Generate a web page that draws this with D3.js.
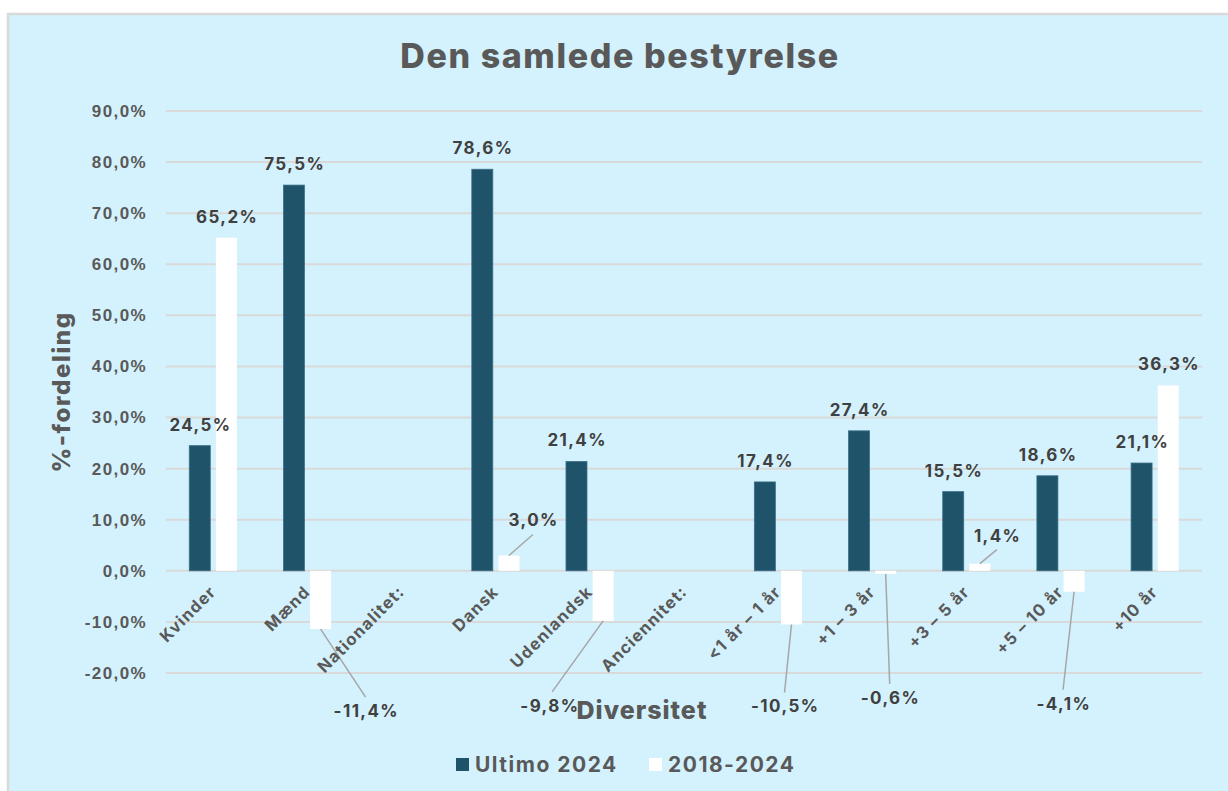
<!DOCTYPE html>
<html>
<head>
<meta charset="utf-8">
<script src="https://cdn.jsdelivr.net/npm/d3@7"></script>
<style>
  body { margin: 0; background: #ffffff; }
  svg { display: block; font-family: Inter, "Open Sans", sans-serif; }
</style>
</head>
<body>
<div id="chart"></div>
<script>
// data
const categories = ["Kvinder", "Mænd", "Nationalitet:", "Dansk", "Udenlandsk", "Anciennitet:",
  "<1 år – 1 år", "+1 – 3 år", "+3 – 5 år", "+5 – 10 år", "+10 år"]
const ultimo2024 = [24.5, 75.5, null, 78.6, 21.4, null, 17.4, 27.4, 15.5, 18.6, 21.1]
const change1824 = [65.2, -11.4, null, 3.0, -9.8, null, -10.5, -0.6, 1.4, -4.1, 36.3]
const yTicks = [-20, -10, 0, 10, 20, 30, 40, 50, 60, 70, 80, 90]
const seriesNames = ["Ultimo 2024", "2018-2024"]

const width = 1228
const height = 791
const padding = { top: 111, bottom: 118, left: 166, right: 26 }

const darkColor = "#1f5369"
const textColor = "#595959"
const labelColor = "#404040"
const gridColor = "#d9d9d9"

// callout label offsets (px) for the white-bar labels that Excel moved
const callouts = {
  "Mænd": [45, 88],
  "Dansk": [24, -29],
  "Udenlandsk": [-54, 91],
  "<1 år – 1 år": [-7, 88],
  "+1 – 3 år": [4, 130],
  "+3 – 5 år": [17, -22],
  "+5 – 10 år": [-11, 118]
}

const fmt = v => d3.format(".1f")(v).replace(".", ",").replace("−", "-") + "%"

const svg = d3.select("#chart").append("svg")
  .attr("width", width)
  .attr("height", height)

// chart area background + border
svg.append("rect")
  .attr("x", 8).attr("y", 14)
  .attr("width", width + 10).attr("height", height)
  .attr("fill", "#d4f2fd")
  .attr("stroke", gridColor)
  .attr("stroke-width", 2.5)

const x = d3.scaleBand()
  .domain(categories)
  .range([padding.left, width - padding.right])
  .padding(0)

const y = d3.scaleLinear()
  .domain([-20, 90])
  .range([height - padding.bottom, padding.top])

const barW = x.bandwidth() * 0.223
const innerGap = x.bandwidth() * 0.06

//gridlines
svg.append("g")
  .selectAll("line")
  .data(yTicks)
  .join("line")
  .attr("x1", padding.left)
  .attr("x2", width - padding.right)
  .attr("y1", d => y(d))
  .attr("y2", d => y(d))
  .attr("stroke", gridColor)
  .attr("stroke-width", 2)

// y axis labels
const yAxis = svg.append("g")
  .attr("transform", `translate(${padding.left - 16},0)`)
  .call(d3.axisLeft(y).tickValues(yTicks).tickSize(0).tickFormat(fmt))
yAxis.select(".domain").remove()
yAxis.selectAll("text")
  .attr("fill", textColor)
  .attr("font-size", 17)
  .attr("font-weight", 700)
  .attr("letter-spacing", 1.4)

const rows = categories.map((c, i) => ({ cat: c, a: ultimo2024[i], b: change1824[i] }))

const center = c => x(c) + x.bandwidth() / 2
const darkX = c => center(c) - innerGap / 2 - barW
const whiteX = c => center(c) + innerGap / 2

// dark bars
svg.append("g")
  .selectAll("rect")
  .data(rows.filter(d => d.a != null))
  .join("rect")
  .attr("x", d => darkX(d.cat))
  .attr("width", barW)
  .attr("y", d => y(Math.max(0, d.a)))
  .attr("height", d => Math.abs(y(d.a) - y(0)))
  .attr("fill", darkColor)
  .attr("stroke", "#3b7089")
  .attr("stroke-width", 0.8)

// white bars
svg.append("g")
  .selectAll("rect")
  .data(rows.filter(d => d.b != null))
  .join("rect")
  .attr("x", d => whiteX(d.cat))
  .attr("width", barW)
  .attr("y", d => y(Math.max(0, d.b)))
  .attr("height", d => Math.max(1.5, Math.abs(y(d.b) - y(0))))
  .attr("fill", "#ffffff")

// value labels dark bars
svg.append("g")
  .selectAll("text")
  .data(rows.filter(d => d.a != null))
  .join("text")
  .attr("x", d => darkX(d.cat) + barW / 2 + 0.7)
  .attr("y", d => y(d.a) - 15)
  .attr("text-anchor", "middle")
  .attr("fill", labelColor)
  .attr("font-size", 17)
  .attr("font-weight", 700)
  .attr("letter-spacing", 1.4)
  .text(d => fmt(d.a))

// value labels white bars, some with leader lines
const whiteRows = rows.filter(d => d.b != null).map(d => {
  const cx = whiteX(d.cat) + barW / 2
  const end = y(d.b)
  const off = callouts[d.cat]
  if (off) {
    const lx = cx + off[0]
    const ly = end + off[1]
    return { ...d, cx, end, lx, ly, leader: true }
  }
  return { ...d, cx, end, lx: cx, ly: end - 15, leader: false }
})

svg.append("g")
  .selectAll("line")
  .data(whiteRows.filter(d => d.leader))
  .join("line")
  .attr("x1", d => d.cx)
  .attr("y1", d => d.end)
  .attr("x2", d => d.lx + (d.cat == "Udenlandsk" ? 3 : 0))
  .attr("y2", d => d.b < 0 ? d.ly - 20 : d.ly + 8)
  .attr("stroke", "#a6a6a6")
  .attr("stroke-width", 1.5)

svg.append("g")
  .selectAll("text")
  .data(whiteRows)
  .join("text")
  .attr("x", d => d.lx + 0.7)
  .attr("y", d => d.ly)
  .attr("text-anchor", "middle")
  .attr("fill", labelColor)
  .attr("font-size", 17)
  .attr("font-weight", 700)
  .attr("letter-spacing", 1.4)
  .text(d => fmt(d.b))

// category labels
svg.append("g")
  .selectAll("text")
  .data(categories)
  .join("text")
  .attr("transform", d => `translate(${center(d) + 4},${y(0) + 22}) rotate(-45)`)
  .attr("text-anchor", "end")
  .attr("fill", textColor)
  .attr("font-size", 16.5)
  .attr("font-weight", 700)
  .attr("letter-spacing", 1.2)
  .text(d => d)

// title
svg.append("text")
  .attr("x", 620).attr("y", 68)
  .attr("text-anchor", "middle")
  .attr("fill", textColor)
  .attr("font-size", 34)
  .attr("font-weight", 800)
  .attr("letter-spacing", 1.6)
  .text("Den samlede bestyrelse")

// axis titles
svg.append("text")
  .attr("transform", `translate(70,392) rotate(-90)`)
  .attr("text-anchor", "middle")
  .attr("fill", textColor)
  .attr("font-size", 24)
  .attr("font-weight", 800)
  .attr("letter-spacing", 1.6)
  .text("%-fordeling")

svg.append("text")
  .attr("x", 642).attr("y", 719)
  .attr("text-anchor", "middle")
  .attr("fill", textColor)
  .attr("font-size", 25)
  .attr("font-weight", 800)
  .attr("letter-spacing", 1)
  .text("Diversitet")

// legend
const legendX = [456, 649]
const legend = svg.append("g")
  .selectAll("g")
  .data(seriesNames)
  .join("g")
  .attr("transform", (d, i) => `translate(${legendX[i]},758)`)
legend.append("rect")
  .attr("width", 13).attr("height", 13)
  .attr("fill", (d, i) => i == 0 ? darkColor : "#ffffff")
legend.append("text")
  .attr("x", 19).attr("y", 14)
  .attr("fill", textColor)
  .attr("font-size", 21)
  .attr("font-weight", 700)
  .attr("letter-spacing", 1.5)
  .text(d => d)
</script>
</body>
</html>
